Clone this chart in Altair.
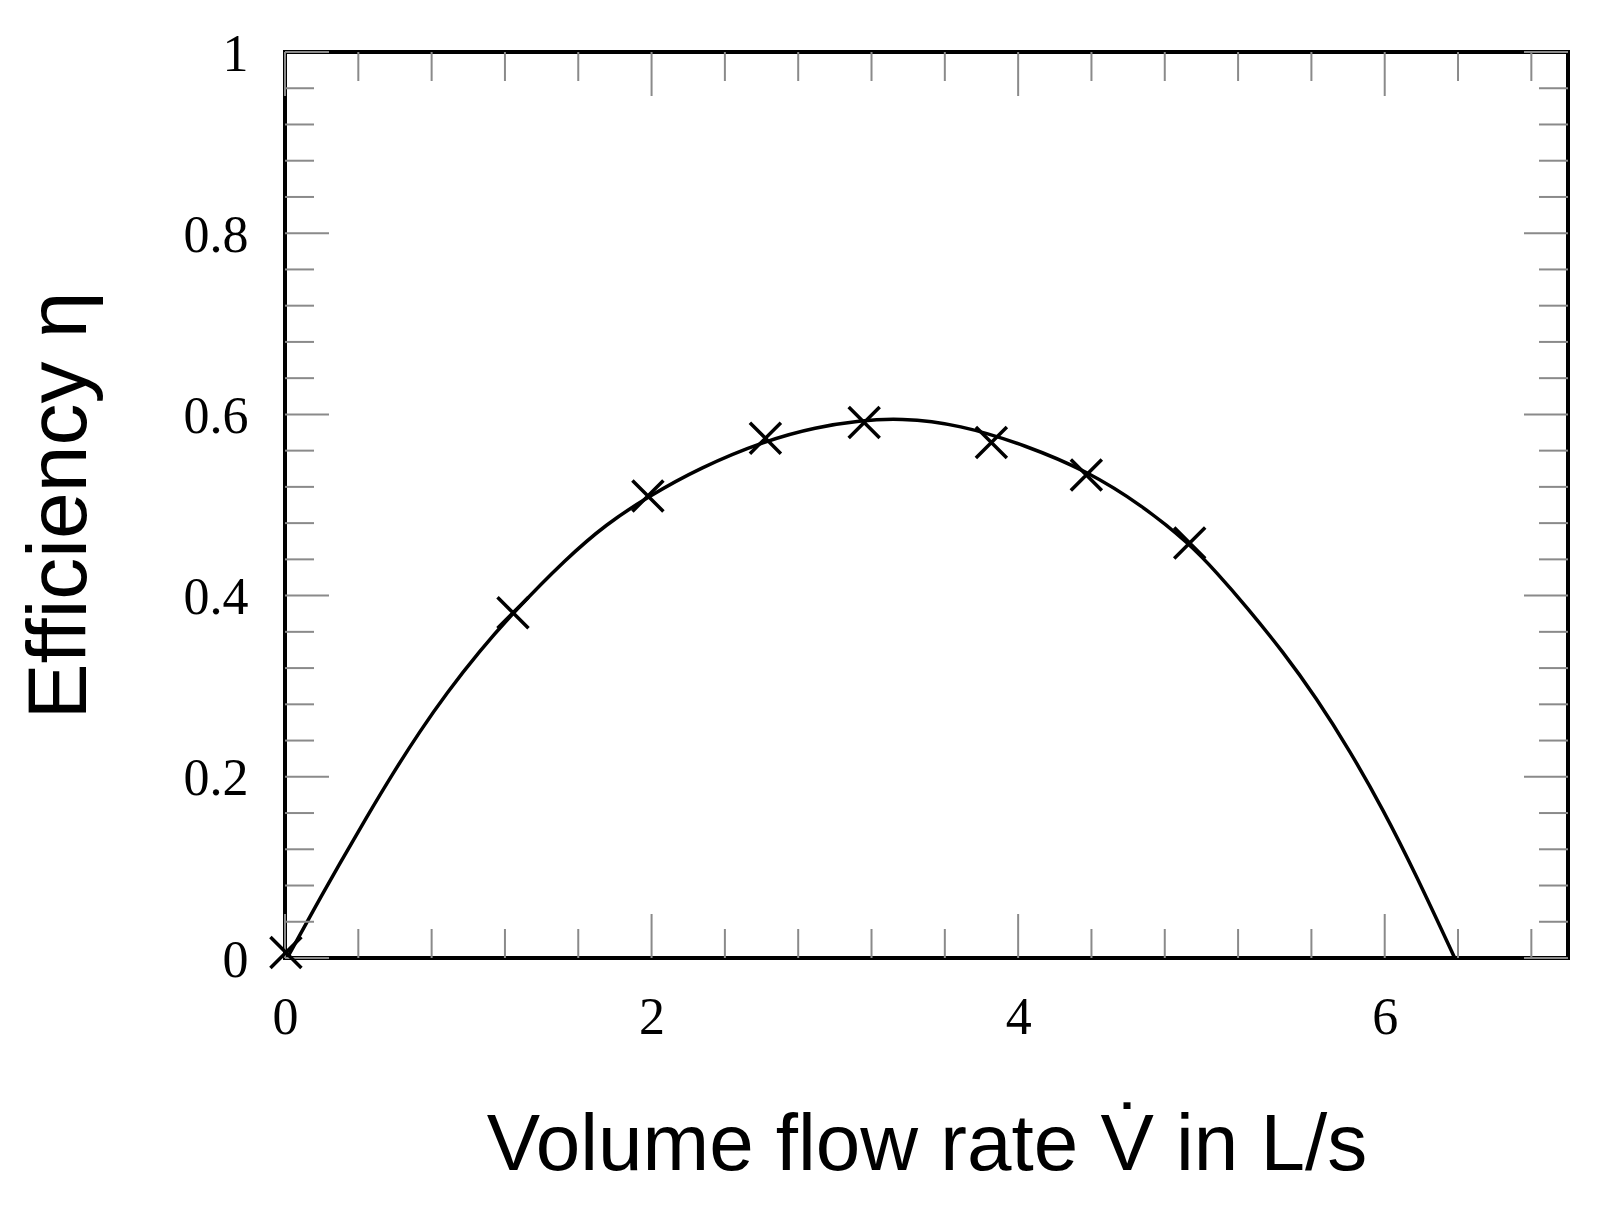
import altair as alt
import pandas as pd

# measured points (crosses)
meas_v = [0.005, 1.244, 1.98, 2.621, 3.16, 3.854, 4.372, 4.936]
meas_eta = [0.006, 0.381, 0.510, 0.5737, 0.591, 0.569, 0.533, 0.458]

# fitted curve
fit_v = [0.012, 0.153, 0.298, 0.444, 0.589, 0.735, 0.880, 1.062, 1.244, 1.535,
         1.753, 1.98, 2.262, 2.621, 2.899, 3.136, 3.35, 3.681, 4.045, 4.372,
         4.681, 4.936, 5.081, 5.245, 5.445, 5.627, 5.809, 5.991, 6.173, 6.382]
fit_eta = [0.0, 0.052, 0.104, 0.155, 0.204, 0.250, 0.292, 0.339, 0.381, 0.441,
           0.479, 0.509, 0.541, 0.571, 0.586, 0.593, 0.596, 0.589, 0.5655, 0.538,
           0.499, 0.457, 0.426, 0.388, 0.338, 0.287, 0.229, 0.164, 0.091, 0.0]

# tick positions
x_major = [0, 2, 4, 6]
x_minor = [0.4, 0.8, 1.2, 1.6, 2.4, 2.8, 3.2, 3.6, 4.4, 4.8, 5.2, 5.6, 6.4, 6.8]
y_major = [0, 0.2, 0.4, 0.6, 0.8, 1.0]
y_minor = [round(0.04 * i, 2) for i in range(1, 25) if i % 5 != 0]

W, H = 1283, 906
MINOR, MAJOR = 29, 44
TICK_COLOR = "#8a8a8a"

xs = alt.Scale(domain=[0, 7], nice=False, zero=False)
ys = alt.Scale(domain=[0, 1], nice=False, zero=False)

meas = pd.DataFrame({"v": meas_v, "eta": meas_eta})
fit = pd.DataFrame({"v": fit_v, "eta": fit_eta})

xaxis = alt.Axis(
    values=x_major, format="~g", ticks=False, tickSize=0, domain=False, grid=False,
    labelFont="Liberation Serif", labelFontSize=52, labelColor="black",
    labelPadding=75, labelBaseline="alphabetic", labelFlush=False, labelOverlap=False,
    title="Volume flow rate V\u0307 in L/s", titleFont="Liberation Sans",
    titleFontSize=80, titleFontWeight="normal", titleColor="black",
    titleX=W / 2, titleY=211, titleAlign="center", titleBaseline="alphabetic",
)
yaxis = alt.Axis(
    values=y_major, format="~g", ticks=False, tickSize=0, domain=False, grid=False,
    labelFont="Liberation Serif", labelFontSize=52, labelColor="black",
    labelPadding=37, labelAlign="right", labelBaseline="middle", labelOffset=2,
    labelFlush=False, labelOverlap=False,
    title="Efficiency \u03b7", titleFont="Liberation Sans", titleFontSize=84,
    titleFontWeight="normal", titleColor="black", titleAngle=270,
    titleX=-200, titleY=H / 2, titleAlign="center", titleBaseline="alphabetic",
)

line = alt.Chart(fit).mark_line(
    color="black", strokeWidth=3.5, interpolate="basis"
).encode(
    x=alt.X("v:Q", scale=xs, axis=xaxis),
    y=alt.Y("eta:Q", scale=ys, axis=yaxis),
)

cross_path = "M-1,-1L1,1M-1,1L1,-1"
points = alt.Chart(meas).mark_point(
    shape=cross_path, size=961, filled=False, stroke="black", strokeWidth=3.5, opacity=1
).encode(
    x=alt.X("v:Q", scale=xs, axis=xaxis),
    y=alt.Y("eta:Q", scale=ys, axis=yaxis),
)


def xticks(vals, length, top):
    df = pd.DataFrame({"v": vals})
    ypos = length / 2 if top else H - length / 2
    return alt.Chart(df).mark_tick(
        orient="vertical", size=length, thickness=2, color=TICK_COLOR, opacity=1
    ).encode(x=alt.X("v:Q", scale=xs, axis=xaxis), y=alt.value(ypos))


def yticks(vals, length, right):
    df = pd.DataFrame({"v": vals})
    xpos = W - length / 2 if right else length / 2
    return alt.Chart(df).mark_tick(
        orient="horizontal", size=length, thickness=2, color=TICK_COLOR, opacity=1
    ).encode(y=alt.Y("v:Q", scale=ys, axis=yaxis), x=alt.value(xpos))


ticks = [
    xticks(x_minor, MINOR, False), xticks(x_major, MAJOR, False),
    xticks(x_minor, MINOR, True), xticks(x_major, MAJOR, True),
    yticks(y_minor, MINOR, False), yticks(y_major, MAJOR, False),
    yticks(y_minor, MINOR, True), yticks(y_major, MAJOR, True),
]

chart = alt.layer(line, *ticks, points).properties(
    width=W, height=H,
    autosize=alt.AutoSizeParams(type="none"),
    padding={"left": 277, "top": 44, "right": 30, "bottom": 250},
    background="white",
).configure_view(stroke="black", strokeWidth=4)

chart.save("out.html", embed_options={"renderer": "svg", "actions": False})
